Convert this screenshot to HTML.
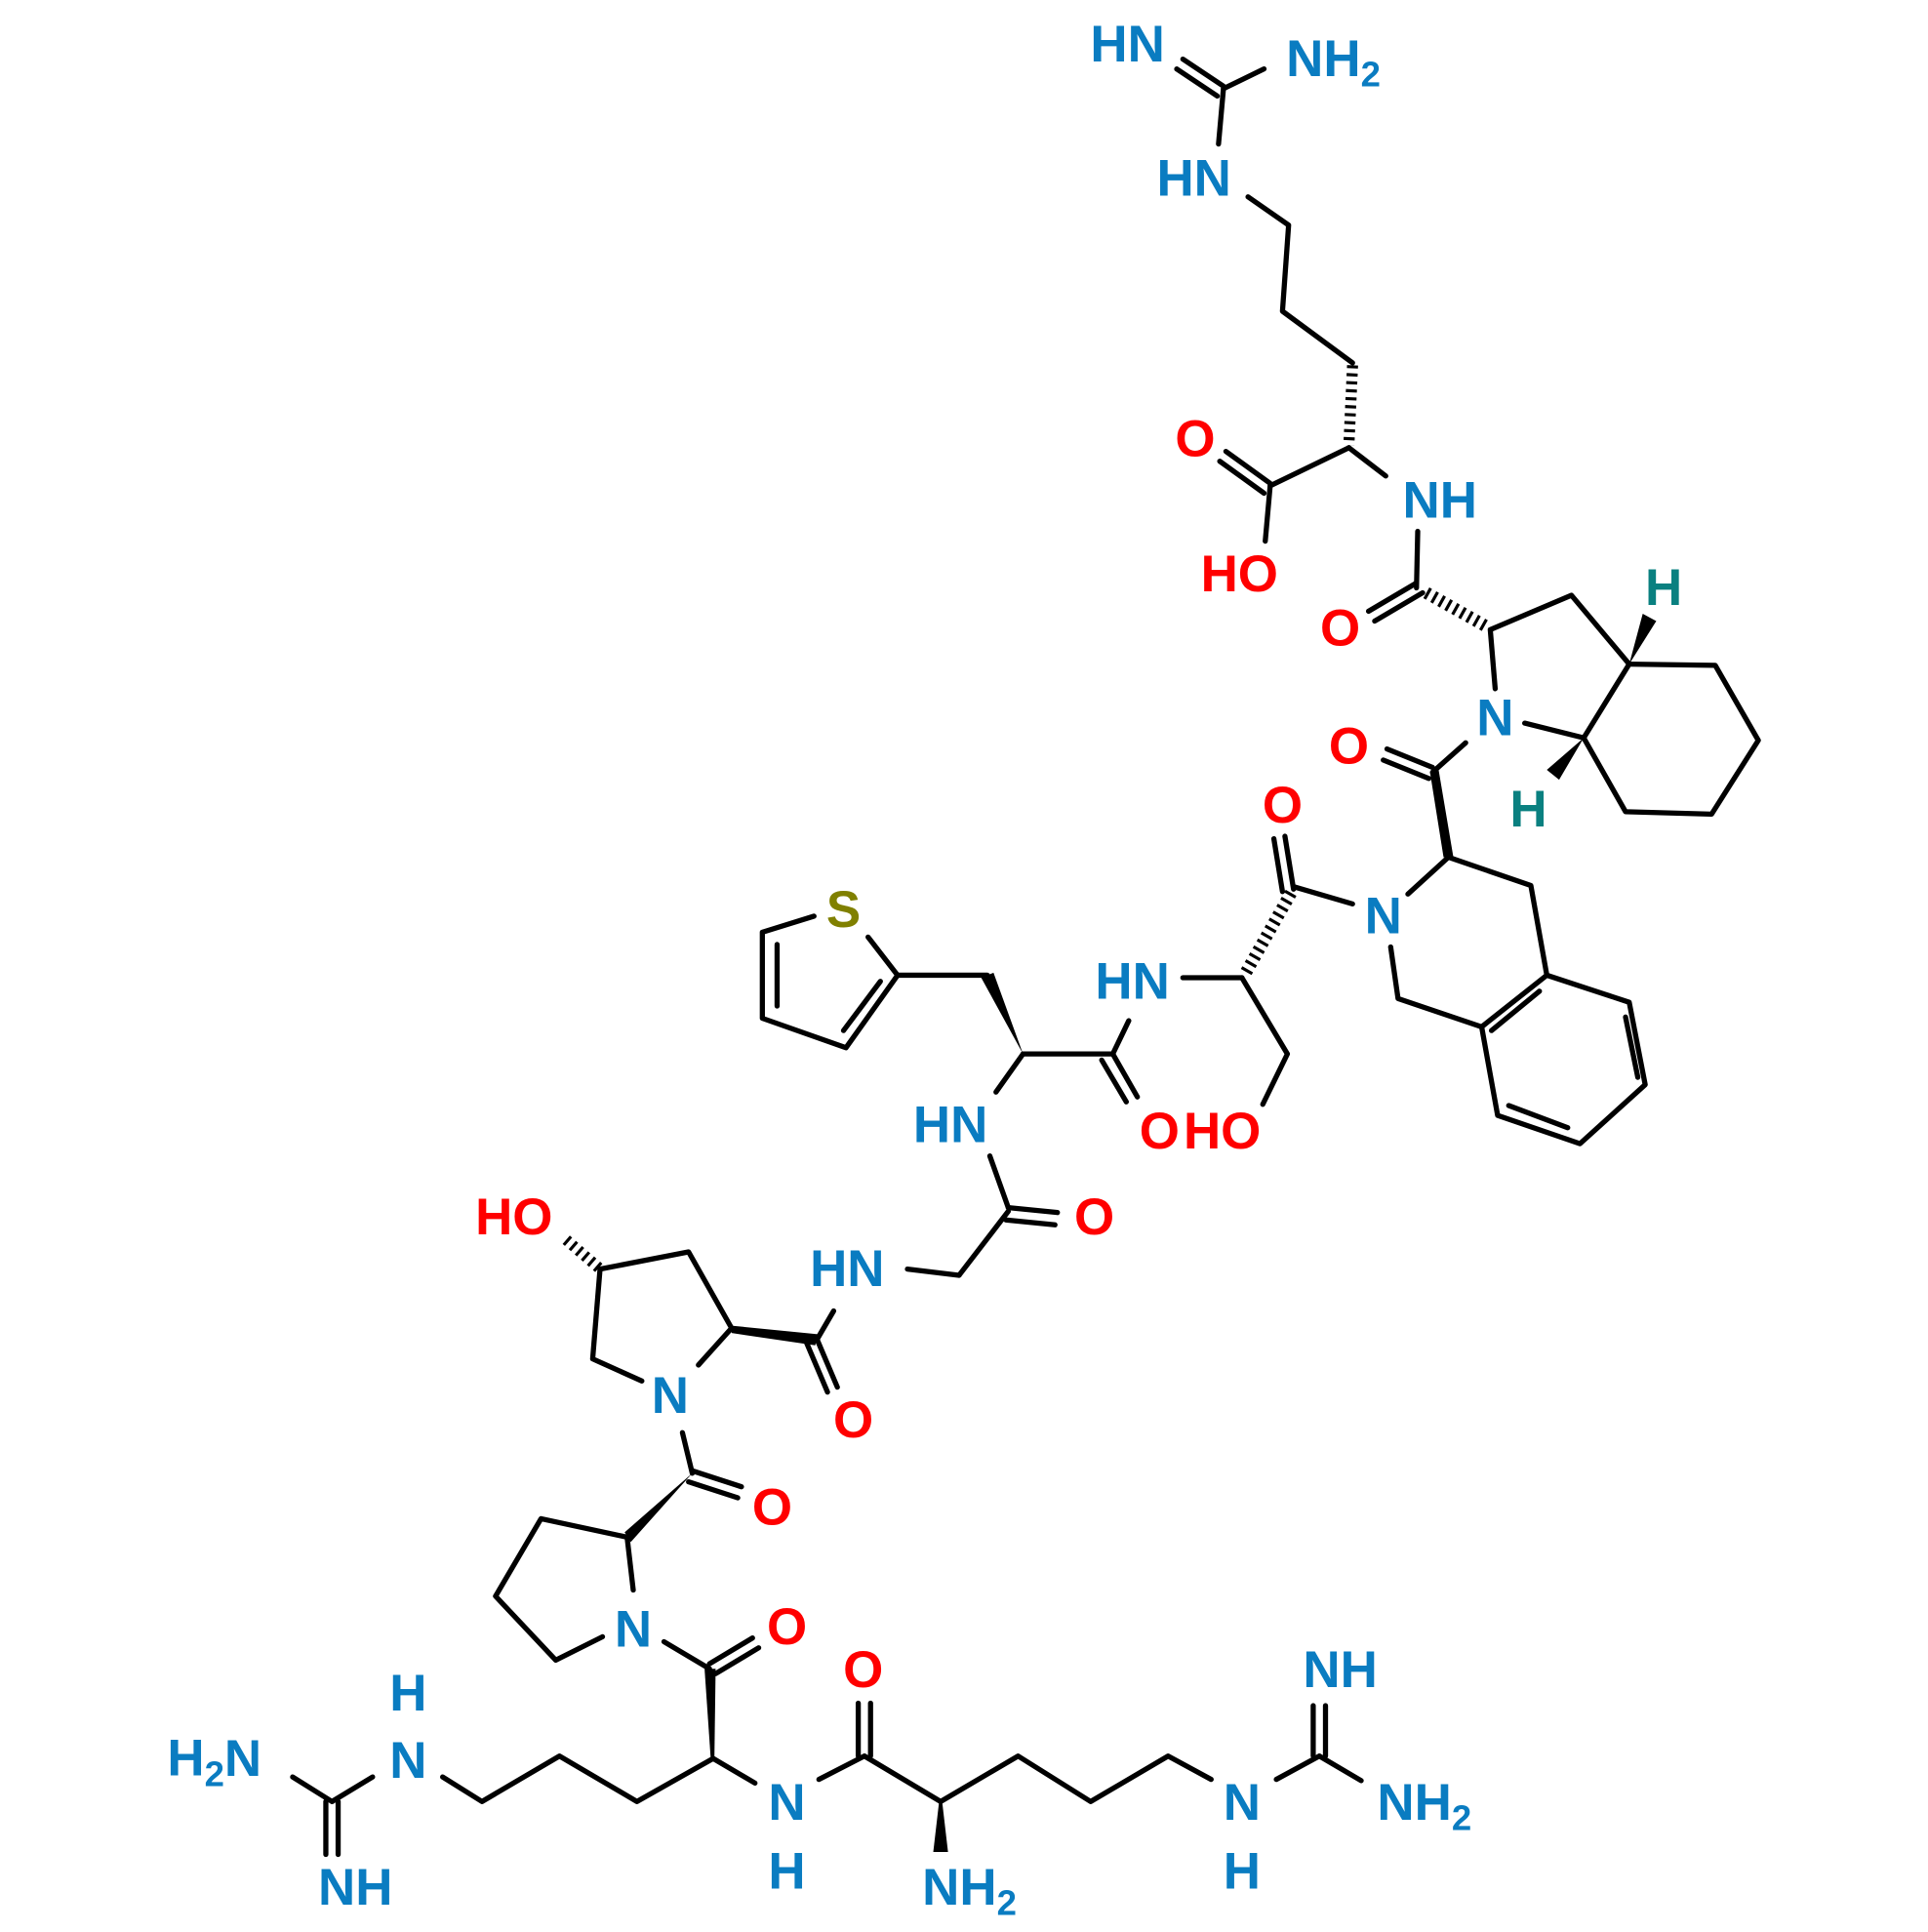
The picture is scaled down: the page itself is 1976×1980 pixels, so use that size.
<!DOCTYPE html>
<html><head><meta charset="utf-8"><style>
html,body{margin:0;padding:0;background:#fff;}
svg{display:block;}
text{font-family:"Liberation Sans",Arial,sans-serif;font-weight:bold;font-size:42px;text-anchor:middle;dominant-baseline:central;}
tspan.sub{font-size:29px;}
.b{fill:#0a7cc1}.r{fill:#ff0000}.t{fill:#0a8080}.s{fill:#808000}
line,polyline,polygon.l{stroke:#000;stroke-width:4.2;fill:none;stroke-linecap:round;stroke-linejoin:round}
.h{stroke:#000;stroke-width:11;stroke-dasharray:2.5 4;stroke-linecap:butt}
.w{fill:#000;stroke:none}
</style></head><body>
<svg width="1976" height="1980" viewBox="0 0 1568 1571" xmlns="http://www.w3.org/2000/svg">
<line x1="995" y1="70" x2="962" y2="48"/><line x1="990" y1="78" x2="957" y2="56"/>
<line x1="995" y1="72" x2="1028" y2="56"/>
<line x1="995" y1="72" x2="991" y2="117"/>
<polyline points="1015,160 1048,183 1043,253 1100,295"/>
<line class="h" x1="1100" y1="297" x2="1097" y2="362" style="stroke-width:9"/>
<line x1="1097" y1="364" x2="1033" y2="395"/>
<line x1="1033" y1="393" x2="997" y2="367"/><line x1="1028" y1="401" x2="992" y2="375"/>
<line x1="1033" y1="395" x2="1029" y2="440"/>
<line x1="1097" y1="364" x2="1127" y2="387"/>
<line x1="1153" y1="432" x2="1152" y2="478"/>
<line x1="1152" y1="474" x2="1113" y2="497"/><line x1="1157" y1="482" x2="1118" y2="505"/>
<line class="h" x1="1160" y1="482" x2="1210" y2="510" style="stroke-width:10"/>
<polyline points="1216,560 1212,512 1278,484 1325,540 1288,600 1240,588"/>
<polyline points="1325,540 1395,541 1430,602 1392,662 1322,660 1288,600"/>
<polygon class="w" points="1325,540 1347,505 1336,499"/>
<polygon class="w" points="1288,600 1258,626 1268,634"/>
<line x1="1192" y1="604" x2="1165" y2="628"/>
<line x1="1165" y1="624" x2="1128" y2="609"/><line x1="1162" y1="633" x2="1125" y2="618"/>
<polygon class="w" points="1163,628 1170,626 1182,697 1174,697"/>
<polyline points="1178,697 1245,720 1258,793 1205,835 1137,812 1131,770"/>
<line x1="1178" y1="697" x2="1145" y2="727"/>
<polyline points="1258,793 1325,815 1338,882 1285,930 1218,907 1205,835"/>
<line x1="1252" y1="806" x2="1213" y2="838"/>
<line x1="1322" y1="827" x2="1332" y2="876"/>
<line x1="1275" y1="917" x2="1227" y2="899"/>
<line x1="1100" y1="735" x2="1052" y2="721"/>
<line x1="1052" y1="723" x2="1045" y2="680"/><line x1="1043" y1="725" x2="1036" y2="682"/>
<line class="h" x1="1050" y1="726" x2="1012" y2="793" style="stroke-width:10"/>
<polyline points="1010,795 1047,857 1027,898"/>
<line x1="1010" y1="795" x2="962" y2="795"/>
<line x1="918" y1="830" x2="905" y2="857"/>
<line x1="905" y1="857" x2="832" y2="857"/>
<line x1="905" y1="857" x2="925" y2="892"/><line x1="896" y1="862" x2="916" y2="896"/>
<polygon class="w" points="832,857 798,795 808,791"/>
<line x1="803" y1="793" x2="730" y2="793"/>
<polyline points="706,762 730,793 688,852 620,828 620,758 662,745"/>
<line x1="716" y1="798" x2="686" y2="838"/>
<line x1="632" y1="768" x2="632" y2="818"/>
<line x1="832" y1="857" x2="810" y2="888"/>
<line x1="805" y1="940" x2="820" y2="982"/>
<line x1="820" y1="982" x2="860" y2="986"/><line x1="818" y1="992" x2="858" y2="996"/>
<line x1="820" y1="985" x2="780" y2="1037"/>
<line x1="780" y1="1037" x2="738" y2="1032"/>
<line x1="678" y1="1066" x2="664" y2="1090"/>
<line x1="664" y1="1088" x2="681" y2="1128"/><line x1="656" y1="1092" x2="673" y2="1132"/>
<polygon class="w" points="595,1078 595,1084 663,1094 665,1085"/>
<polyline points="568,1110 595,1080 560,1018 488,1032 482,1105 522,1123"/>
<line class="h" x1="487" y1="1031" x2="458" y2="1006" style="stroke-width:9"/>
<line x1="555" y1="1165" x2="563" y2="1198"/>
<line x1="563" y1="1196" x2="603" y2="1209"/><line x1="560" y1="1205" x2="600" y2="1218"/>
<polygon class="w" points="563,1198 508,1246 513,1254"/>
<polyline points="515,1293 510,1250 440,1235 403,1298 452,1350 490,1331"/>
<line x1="540" y1="1335" x2="577" y2="1357"/>
<line x1="577" y1="1353" x2="612" y2="1332"/><line x1="582" y1="1361" x2="617" y2="1340"/>
<polygon class="w" points="573,1357 582,1357 581,1430 578,1430"/>
<polyline points="580,1430 518,1465 455,1428 392,1465 360,1445"/>
<line x1="580" y1="1430" x2="614" y2="1450"/>
<line x1="666" y1="1447" x2="703" y2="1428"/>
<line x1="698" y1="1428" x2="698" y2="1385"/><line x1="708" y1="1428" x2="708" y2="1385"/>
<polyline points="703,1428 765,1465 828,1428 887,1465 950,1428 985,1447"/>
<polygon class="w" points="764,1463 766,1463 771,1506 759,1506"/>
<line x1="1038" y1="1447" x2="1073" y2="1428"/>
<line x1="1068" y1="1428" x2="1068" y2="1387"/><line x1="1078" y1="1428" x2="1078" y2="1387"/>
<line x1="1073" y1="1428" x2="1107" y2="1448"/>
<line x1="303" y1="1445" x2="270" y2="1465"/>
<line x1="270" y1="1465" x2="238" y2="1445"/>
<line x1="265" y1="1465" x2="265" y2="1508"/><line x1="275" y1="1465" x2="275" y2="1508"/>
<text class="b" x="917" y="36">HN</text>
<text class="b" x="1046" y="48" style="text-anchor:start">NH<tspan class="sub" dy="12">2</tspan></text>
<text class="b" x="971" y="145">HN</text>
<text class="r" x="972" y="357">O</text>
<text class="b" x="1171" y="407">NH</text>
<text class="r" x="1008" y="467">HO</text>
<text class="r" x="1090" y="511">O</text>
<text class="t" x="1353" y="478">H</text>
<text class="b" x="1216" y="584">N</text>
<text class="r" x="1097" y="607">O</text>
<text class="t" x="1243" y="658">H</text>
<text class="r" x="1043" y="655">O</text>
<text class="b" x="1125" y="745">N</text>
<text class="s" x="686" y="740">S</text>
<text class="b" x="921" y="798">HN</text>
<text class="r" x="943" y="920">O</text>
<text class="r" x="994" y="920">HO</text>
<text class="b" x="773" y="915">HN</text>
<text class="r" x="890" y="990">O</text>
<text class="b" x="689" y="1032">HN</text>
<text class="r" x="418" y="990">HO</text>
<text class="r" x="694" y="1155">O</text>
<text class="b" x="545" y="1135">N</text>
<text class="r" x="628" y="1226">O</text>
<text class="b" x="515" y="1325">N</text>
<text class="r" x="640" y="1323">O</text>
<text class="r" x="702" y="1358">O</text>
<text class="b" x="1090" y="1358">NH</text>
<text class="b" x="332" y="1377">H</text>
<text class="b" x="332" y="1432">N</text>
<text class="b" x="136" y="1430" style="text-anchor:start">H<tspan class="sub" dy="12">2</tspan><tspan dy="-12">N</tspan></text>
<text class="b" x="289" y="1535">NH</text>
<text class="b" x="640" y="1466">N</text>
<text class="b" x="640" y="1522">H</text>
<text class="b" x="750" y="1535" style="text-anchor:start">NH<tspan class="sub" dy="12">2</tspan></text>
<text class="b" x="1010" y="1466">N</text>
<text class="b" x="1010" y="1522">H</text>
<text class="b" x="1120" y="1466" style="text-anchor:start">NH<tspan class="sub" dy="12">2</tspan></text>
</svg>
</body></html>
